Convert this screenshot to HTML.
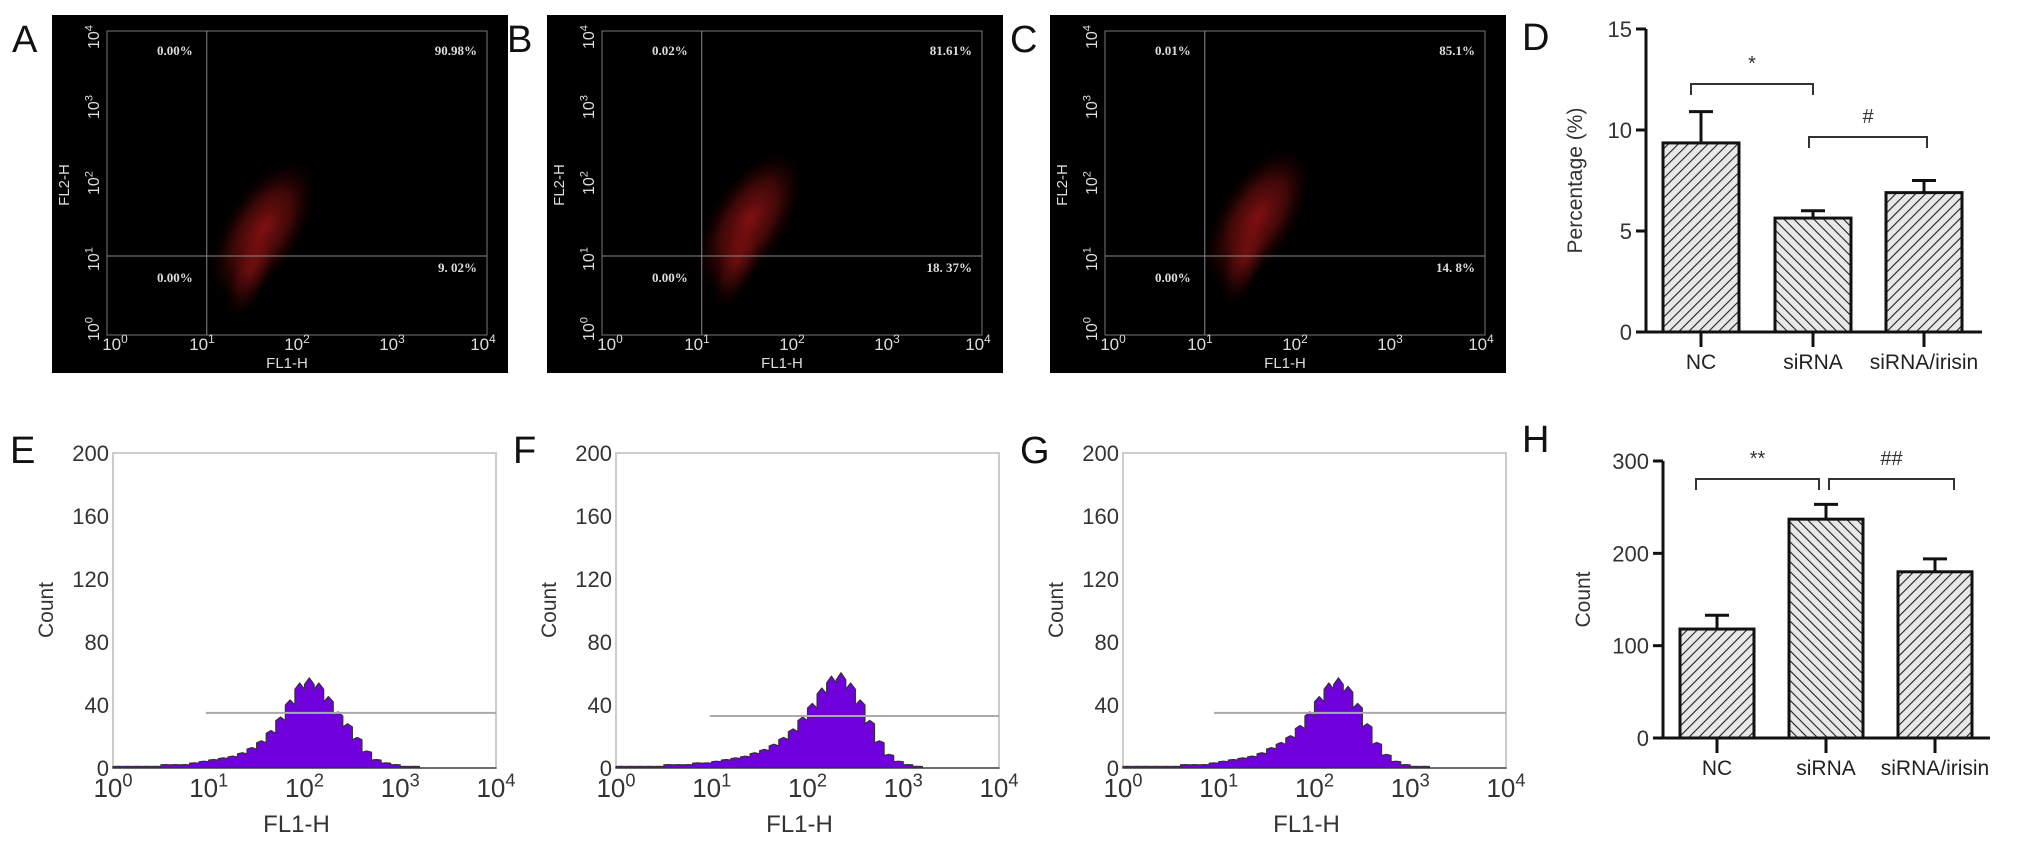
<!DOCTYPE html>
<html><head><meta charset="utf-8"><style>
html,body{margin:0;padding:0;background:#fff;}
svg{display:block;font-family:"Liberation Sans",Arial,sans-serif;}
</style></head><body>
<svg id="fig" width="2032" height="844" viewBox="0 0 2032 844" xmlns="http://www.w3.org/2000/svg">
<defs>
<pattern id="hatchF" patternUnits="userSpaceOnUse" width="7" height="7" patternTransform="rotate(45)">
<rect width="7" height="7" fill="#e8e8e8"/><line x1="0" y1="0" x2="0" y2="7" stroke="#222" stroke-width="2.2"/></pattern>
<pattern id="hatchB" patternUnits="userSpaceOnUse" width="7" height="7" patternTransform="rotate(-45)">
<rect width="7" height="7" fill="#e8e8e8"/><line x1="0" y1="0" x2="0" y2="7" stroke="#222" stroke-width="2.2"/></pattern>
<radialGradient id="blob"><stop offset="0" stop-color="#a81616" stop-opacity="0.8"/><stop offset="0.55" stop-color="#801010" stop-opacity="0.5"/><stop offset="1" stop-color="#400" stop-opacity="0"/></radialGradient>
</defs>
<g id="root"></g>
</svg>
<script>
// ---- data ----
const dotPanels = ['A','B','C'];
const dotUL = ['0.00%','0.02%','0.01%'];
const dotUR = ['90.98%','81.61%','85.1%'];
const dotLL = ['0.00%','0.00%','0.00%'];
const dotLR = ['9. 02%','18. 37%','14. 8%'];
const blobLogX = [1.64, 1.55, 1.60];
const blobLogY = [1.51, 1.63, 1.67];
const decadeLabels = ['0','1','2','3','4'];

const barCats = ['NC','siRNA','siRNA/irisin'];
const pctValues = [9.36, 5.64, 6.9];
const pctErrors = [1.55, 0.36, 0.6];
const pctTicks = [0,5,10,15];
const countValues = [118, 237, 180];
const countErrors = [15, 16, 14];
const countTicks = [0,100,200,300];

const histPanels = ['E','F','G'];
const histE = [1,1,1,1,1,2,2,2,3,4, 5,6,7,9,12,16,22,30,40,50, 53,50,42,33,26,18,10,5,3,2, 1,1,0,0,0,0,0,0,0,0];
const histF = [1,1,1,1,1,2,2,2,3,3, 4,5,6,7,9,11,14,18,23,30, 38,47,54,56,50,40,28,16,8,4, 2,1,0,0,0,0,0,0,0,0];
const histG = [1,1,1,1,1,1,2,2,2,3, 4,5,6,7,9,12,15,19,25,33, 42,50,53,48,38,26,15,8,4,2, 1,1,0,0,0,0,0,0,0,0];
const histTicks = [0,40,80,120,160,200];
const gateCount = [35, 33, 35];
const gateStart = [0.97, 0.98, 0.95];

const NS='http://www.w3.org/2000/svg';
const root=document.getElementById('root');
function el(tag,attrs,parent,text){const e=document.createElementNS(NS,tag);for(const k in attrs)e.setAttribute(k,attrs[k]);if(text!==undefined)e.textContent=text;(parent||root).appendChild(e);return e;}
function pow10(parent,x,y,exp,size,fill,rot){
  const t=el('text',{x:x,y:y,'font-size':size,fill:fill,'text-anchor':'middle'},parent);
  if(rot)t.setAttribute('transform','rotate(-90 '+x+' '+y+')');
  const a=document.createElementNS(NS,'tspan');a.textContent='10';t.appendChild(a);
  const b=document.createElementNS(NS,'tspan');b.setAttribute('dy',-size*0.4);b.setAttribute('font-size',size*0.7);b.textContent=exp;t.appendChild(b);
  return t;
}

// ---- dot plots A-C ----
const boxX=[52,547,1050];
dotPanels.forEach((p,i)=>{
  const g=el('g',{});
  
  
  const bx=boxX[i];
  const lbl=el('text',{x:bx-40,y:52,'font-size':38,fill:'#111'},g,p);
  
  
  el('rect',{x:bx,y:15,width:456,height:358,fill:'#000'},g);
  const L=bx+55,R=bx+435,T=31,B=335;
  const sx=v=>L+(R-L)*v/4, sy=v=>B-(B-T)*v/4;
  const bl=el('ellipse',{cx:sx(blobLogX[i]),cy:sy(blobLogY[i])+10,rx:78,ry:38,fill:'url(#blob)',transform:'rotate(-58 '+sx(blobLogX[i])+' '+(sy(blobLogY[i])+10)+')'},g);
  
  
  el('ellipse',{cx:sx(blobLogX[i])-12,cy:sy(blobLogY[i])+50,rx:50,ry:20,fill:'url(#blob)',opacity:0.6,transform:'rotate(-70 '+(sx(blobLogX[i])-12)+' '+(sy(blobLogY[i])+50)+')'},g);
  el('rect',{x:L,y:T,width:R-L,height:B-T,fill:'none',stroke:'#777','stroke-width':1},g);
  el('line',{x1:sx(1.05),x2:sx(1.05),y1:T,y2:B,stroke:'#888','stroke-width':1},g);
  el('line',{x1:L,x2:R,y1:sy(1.04),y2:sy(1.04),stroke:'#888','stroke-width':1},g);
  const tf={'font-size':13,fill:'#ddd','font-family':'Liberation Serif, serif','font-weight':'bold'};
  el('text',Object.assign({x:L+50,y:55},tf),g,dotUL[i]);
  el('text',Object.assign({x:R-10,y:55,'text-anchor':'end'},tf),g,dotUR[i]);
  el('text',Object.assign({x:L+50,y:282},tf),g,dotLL[i]);
  el('text',Object.assign({x:R-10,y:272,'text-anchor':'end'},tf),g,dotLR[i]);
  decadeLabels.forEach((d,k)=>{
    pow10(g,sx(k)+(k==0?8:0)+(k==4?-4:0),350,d,17,'#ddd',false);
    pow10(g,L-8,sy(k)+(k==0?-6:0)+(k==4?6:0),d,16,'#ddd',true);
  });
  el('text',{x:(L+R)/2-10,y:368,'font-size':15,fill:'#ddd','text-anchor':'middle'},g,'FL1-H');
  el('text',{x:bx+17,y:185,'font-size':15,fill:'#ddd','text-anchor':'middle',transform:'rotate(-90 '+(bx+17)+' 185)'},g,'FL2-H');
});

// ---- bar charts ----
function barChart(name,letter,lx,ly,ax,y0,yTop,vmax,ticks,vals,errs,barX,barW,xEnd,title,titleX,brackets){
  const g=el('g',{});
  
  
  const lt=el('text',{x:lx,y:ly,'font-size':38,fill:'#111'},g,letter);
  
  
  const Y=v=>y0-(y0-yTop)*v/vmax;
  vals.forEach((v,i)=>{
    const x=barX[i],cx=x+barW/2;
    el('line',{x1:cx,x2:cx,y1:Y(v),y2:Y(v+errs[i]),stroke:'#111','stroke-width':3},g);
    el('line',{x1:cx-12,x2:cx+12,y1:Y(v+errs[i]),y2:Y(v+errs[i]),stroke:'#111','stroke-width':3},g);
    const r=el('rect',{x:x,y:Y(v),width:barW,height:y0-Y(v),fill:i==1?'url(#hatchB)':'url(#hatchF)',stroke:'#111','stroke-width':3},g);
    
    
    el('line',{x1:cx,x2:cx,y1:y0,y2:y0+15,stroke:'#111','stroke-width':3},g);
    el('text',{x:cx,y:y0+37,'font-size':21,fill:'#222','text-anchor':'middle'},g,barCats[i]);
  });
  el('line',{x1:ax,x2:ax,y1:yTop,y2:y0,stroke:'#111','stroke-width':3},g);
  el('line',{x1:ax-10,x2:xEnd,y1:y0,y2:y0,stroke:'#111','stroke-width':3},g);
  ticks.forEach(t=>{
    el('line',{x1:ax-10,x2:ax,y1:Y(t),y2:Y(t),stroke:'#111','stroke-width':3},g);
    el('text',{x:ax-14,y:Y(t)+8,'font-size':22,fill:'#333','text-anchor':'end'},g,String(t));
  });
  const ty=(y0+yTop)/2;
  const tt=el('text',{x:titleX,y:ty,'font-size':21,fill:'#333','text-anchor':'middle',transform:'rotate(-90 '+titleX+' '+ty+')'},g,title);
  
  
  brackets.forEach(b=>{
    el('path',{d:'M'+b[0]+' '+(b[2]+11)+'V'+b[2]+'H'+b[1]+'V'+(b[2]+11),fill:'none',stroke:'#333','stroke-width':2},g);
    el('text',{x:(b[0]+b[1])/2,y:b[2]-14,'font-size':20,fill:'#333','text-anchor':'middle'},g,b[3]);
  });
}
barChart('percentage-bar-chart','D',1522,50,1646,332,29,15,pctTicks,pctValues,pctErrors,[1663,1775,1886],76,1982,'Percentage (%)',1582,
  [[1691,1813,84,'*'],[1809,1927,137,'#']]);
barChart('count-bar-chart','H',1522,452,1663,738,461,300,countTicks,countValues,countErrors,[1680,1789,1898],74,1990,'Count',1590,
  [[1696,1819,479,'**'],[1829,1954,479,'##']]);

// ---- histograms E-G ----
const histData=[histE,histF,histG];
const frameL=[113,616,1123];
histPanels.forEach((p,i)=>{
  const g=el('g',{});
  
  
  const L=frameL[i],R=L+383,T=453,B=768;
  const X=v=>L+(R-L)*v/4, Y=c=>B-(B-T)*c/200;
  const lt=el('text',{x:L-103,y:463,'font-size':38,fill:'#111'},g,p);
  
  
  el('rect',{x:L,y:T,width:R-L,height:B-T,fill:'none',stroke:'#ccc','stroke-width':2},g);
  const d=histData[i];const n=d.length;
  let path='M'+X(0)+' '+Y(0);
  d.forEach((c,k)=>{const xa=X(k*4/n),xb=X((k+1)*4/n);path+='L'+xa+' '+Y(c)+'L'+((xa+xb)/2)+' '+Y(c*1.08)+'L'+xb+' '+Y(c);});
  path+='L'+X(4)+' '+Y(0)+'Z';
  const h=el('path',{d:path,fill:'#7000dc',stroke:'#333','stroke-width':1.2,'stroke-linejoin':'round'},g);
  
  
  const gl=el('line',{x1:X(gateStart[i]),x2:R,y1:Y(gateCount[i]),y2:Y(gateCount[i]),stroke:'#aaa','stroke-width':2},g);
  
  
  histTicks.forEach(t=>{el('text',{x:L-4,y:Y(t)+8,'font-size':22,fill:'#333','text-anchor':'end'},g,String(t));});
  decadeLabels.forEach((dl,k)=>{pow10(g,X(k),797,dl,26,'#333',false);});
  el('text',{x:(L+R)/2-8,y:832,'font-size':24,fill:'#333','text-anchor':'middle'},g,'FL1-H');
  const cx=L-60,cy=610;
  el('text',{x:cx,y:cy,'font-size':21,fill:'#333','text-anchor':'middle',transform:'rotate(-90 '+cx+' '+cy+')'},g,'Count');
});
</script>
</body></html>
